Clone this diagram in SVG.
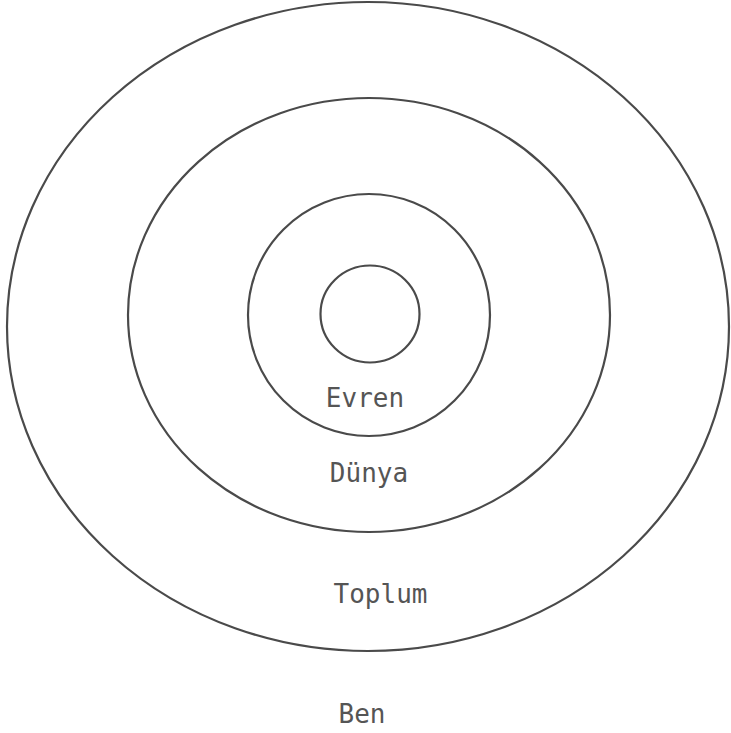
<svg xmlns="http://www.w3.org/2000/svg" width="731" height="733" viewBox="0 0 731 733">
<style>
.ring{fill:none;stroke:#4a4a4a;stroke-width:2.2}
.lbl{font-family:"DejaVu Sans Mono","Liberation Mono",monospace;font-size:26px;fill:#555555;text-anchor:middle}
</style>
<rect width="731" height="733" fill="#ffffff"/>
<g id="ben"><ellipse class="ring" cx="368" cy="326.5" rx="361" ry="324.5"/><text class="lbl" x="362" y="723">Ben</text></g>
<g id="toplum"><ellipse class="ring" cx="369" cy="315" rx="241" ry="217"/><text class="lbl" x="380.5" y="603">Toplum</text></g>
<g id="dunya"><ellipse class="ring" cx="369" cy="315" rx="121" ry="121"/><text class="lbl" x="369" y="482">Dünya</text></g>
<g id="evren"><ellipse class="ring" cx="370" cy="314" rx="49.5" ry="48.5"/><text class="lbl" x="365" y="407">Evren</text></g>
<g id="connectors"/>
</svg>
